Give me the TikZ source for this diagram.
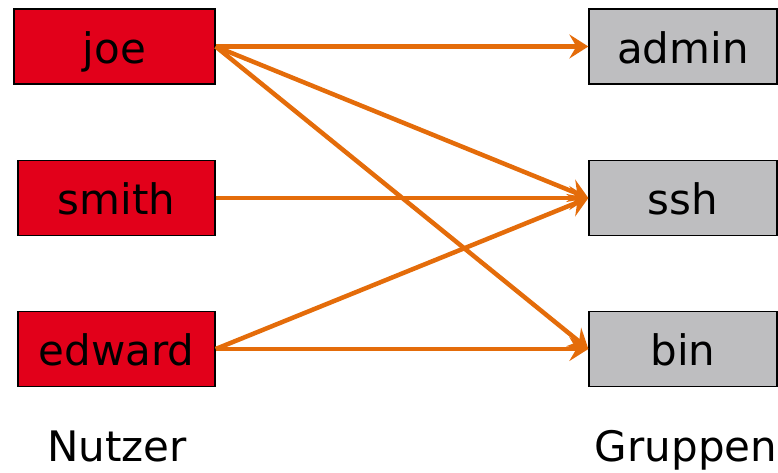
\documentclass[tikz,border=0pt]{standalone}
\usepackage{fontspec}
\setmainfont{DejaVu Sans}
\usetikzlibrary{arrows.meta}
\definecolor{boxred}{RGB}{226,0,26}
\definecolor{boxgrey}{RGB}{190,190,192}
\definecolor{arrorange}{RGB}{228,108,10}
\begin{document}
\begin{tikzpicture}[x=1pt,y=-1pt,
  box/.style={draw=black,line width=1.3pt,minimum height=75pt,inner sep=0pt,
    text height=33pt,text depth=0pt,font=\fontsize{42}{50}\selectfont},
  user/.style={box,fill=boxred},
  grp/.style={box,fill=boxgrey,minimum width=188pt},
  link/.style={draw=arrorange,line width=4.5pt,-{Stealth[length=19pt,width=24pt,inset=7pt]}},
  caption/.style={anchor=base,inner sep=0pt,font=\fontsize{42}{50}\selectfont}]
\useasboundingbox (0,0) rectangle (778,472);
\node[user,minimum width=201pt] (joe) at (114.5,46.5) {joe};
\node[user,minimum width=197pt] (smith) at (116.5,198) {smith};
\node[user,minimum width=197pt] (edward) at (116.5,349) {edward};
\node[grp] (admin) at (683,46.5) {admin};
\node[grp] (ssh) at (683,198) {ssh};
\node[grp] (bin) at (683,349) {bin};
\draw[link] (joe.east) -- (admin.west);
\draw[link] (joe.east) -- (ssh.west);
\draw[link] (joe.east) -- (bin.west);
\draw[link] (smith.east) -- (ssh.west);
\draw[link] (edward.east) -- (ssh.west);
\draw[link] (edward.east) -- (bin.west);
\node[caption] (nutzer) at (117,461) {Nutzer};
\node[caption] (gruppen) at (686,461) {Gruppen};
\end{tikzpicture}
\end{document}
